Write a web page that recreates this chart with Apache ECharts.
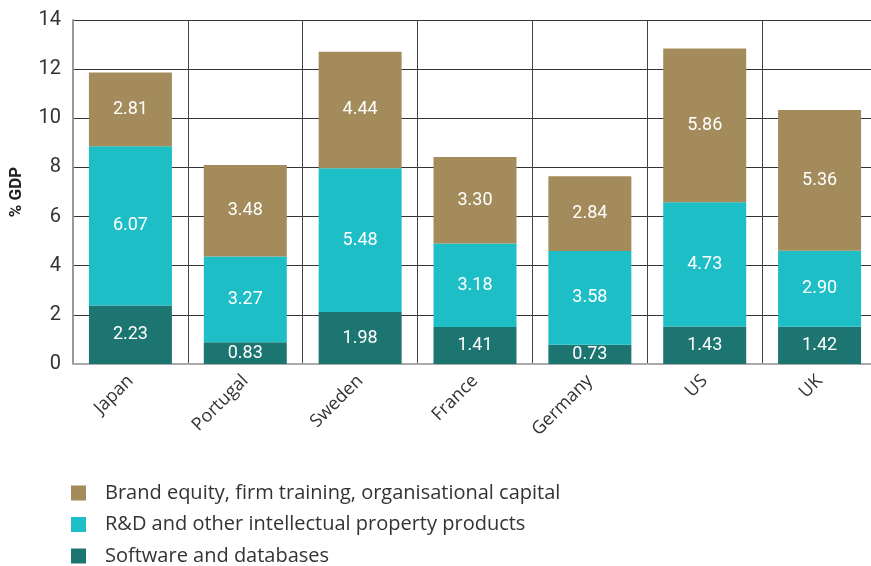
<!DOCTYPE html>
<html>
<head>
<meta charset="utf-8">
<script src="https://cdn.jsdelivr.net/npm/echarts@6/dist/echarts.min.js"></script>
<style>
  html, body { margin: 0; padding: 0; background: #fff; overflow: hidden; }
  #chart { width: 880px; height: 566px; }
</style>
</head>
<body>
<div id="chart"></div>
<script>
  var countries = ['Japan', 'Portugal', 'Sweden', 'France', 'Germany', 'US', 'UK']
  var software = [2.23, 0.83, 1.98, 1.41, 0.73, 1.43, 1.42]
  var rnd = [6.07, 3.27, 5.48, 3.18, 3.58, 4.73, 2.90]
  var brand = [2.81, 3.48, 4.44, 3.30, 2.84, 5.86, 5.36]
  var yTicks = [0, 2, 4, 6, 8, 10, 12, 14]

  var seriesNames = [
    'Software and databases',
    'R&D and other intellectual property products',
    'Brand equity, firm training, organisational capital'
  ]
  var colors = ['#1C7570', '#1EBEC7', '#A38B5B']
  var fontFam = 'Roboto, "Noto Sans", sans-serif'
  var wideFam = '"Open Sans", Roboto, sans-serif'

  // the original draws its bars about 6.8% taller than the printed values,
  // so the axis is stretched by the same amount and relabelled
  var stretch = 1.068
  var step = (yTicks[1] - yTicks[0]) / stretch

  function makeSeries (name, data, color) {
    return {
      name: name,
      type: 'bar',
      stack: 'total',
      barWidth: 83,
      itemStyle: { color: color },
      label: {
        show: true,
        position: 'inside',
        color: '#fff',
        fontSize: 18,
        fontFamily: fontFam,
        formatter: function (p) { return p.value.toFixed(2) }
      },
      data: data
    }
  }

  var chart = echarts.init(document.getElementById('chart'))
  chart.setOption({
    animation: false,
    color: colors,
    grid: { left: 70, top: 20, width: 807, height: 344, containLabel: false },
    legend: {
      orient: 'vertical',
      left: 71,
      top: 483,
      padding: 0,
      icon: 'rect',
      itemWidth: 15,
      itemHeight: 15,
      itemGap: 11.5,
      data: [seriesNames[2], seriesNames[1], seriesNames[0]],
      textStyle: { fontSize: 20, lineHeight: 20, color: '#333', fontFamily: wideFam, padding: [0, 0, 0, 14] }
    },
    xAxis: {
      type: 'category',
      data: countries,
      axisLine: { lineStyle: { color: '#aaa', width: 2 } },
      axisTick: { show: false },
      splitLine: { show: true, lineStyle: { color: '#444', width: 1 } },
      axisLabel: {
        rotate: 45,
        fontSize: 18,
        color: '#333',
        fontFamily: wideFam,
        margin: 14
      }
    },
    yAxis: {
      type: 'value',
      min: 0,
      max: step * (yTicks.length - 1),
      interval: step,
      name: '% GDP',
      nameLocation: 'middle',
      nameRotate: 90,
      nameGap: 48,
      nameTextStyle: { fontSize: 17, color: '#222', fontFamily: fontFam, fontWeight: 'bold' },
      axisLine: { show: true, lineStyle: { color: '#999', width: 2 } },
      axisTick: { show: false },
      splitLine: { show: true, lineStyle: { color: '#333', width: 1 } },
      axisLabel: {
        fontSize: 20,
        color: '#333',
        fontFamily: fontFam,
        margin: 12,
        formatter: function (v) { return yTicks[Math.round(v / step)] }
      }
    },
    series: [
      makeSeries(seriesNames[0], software, colors[0]),
      makeSeries(seriesNames[1], rnd, colors[1]),
      makeSeries(seriesNames[2], brand, colors[2])
    ]
  })
</script>
</body>
</html>
